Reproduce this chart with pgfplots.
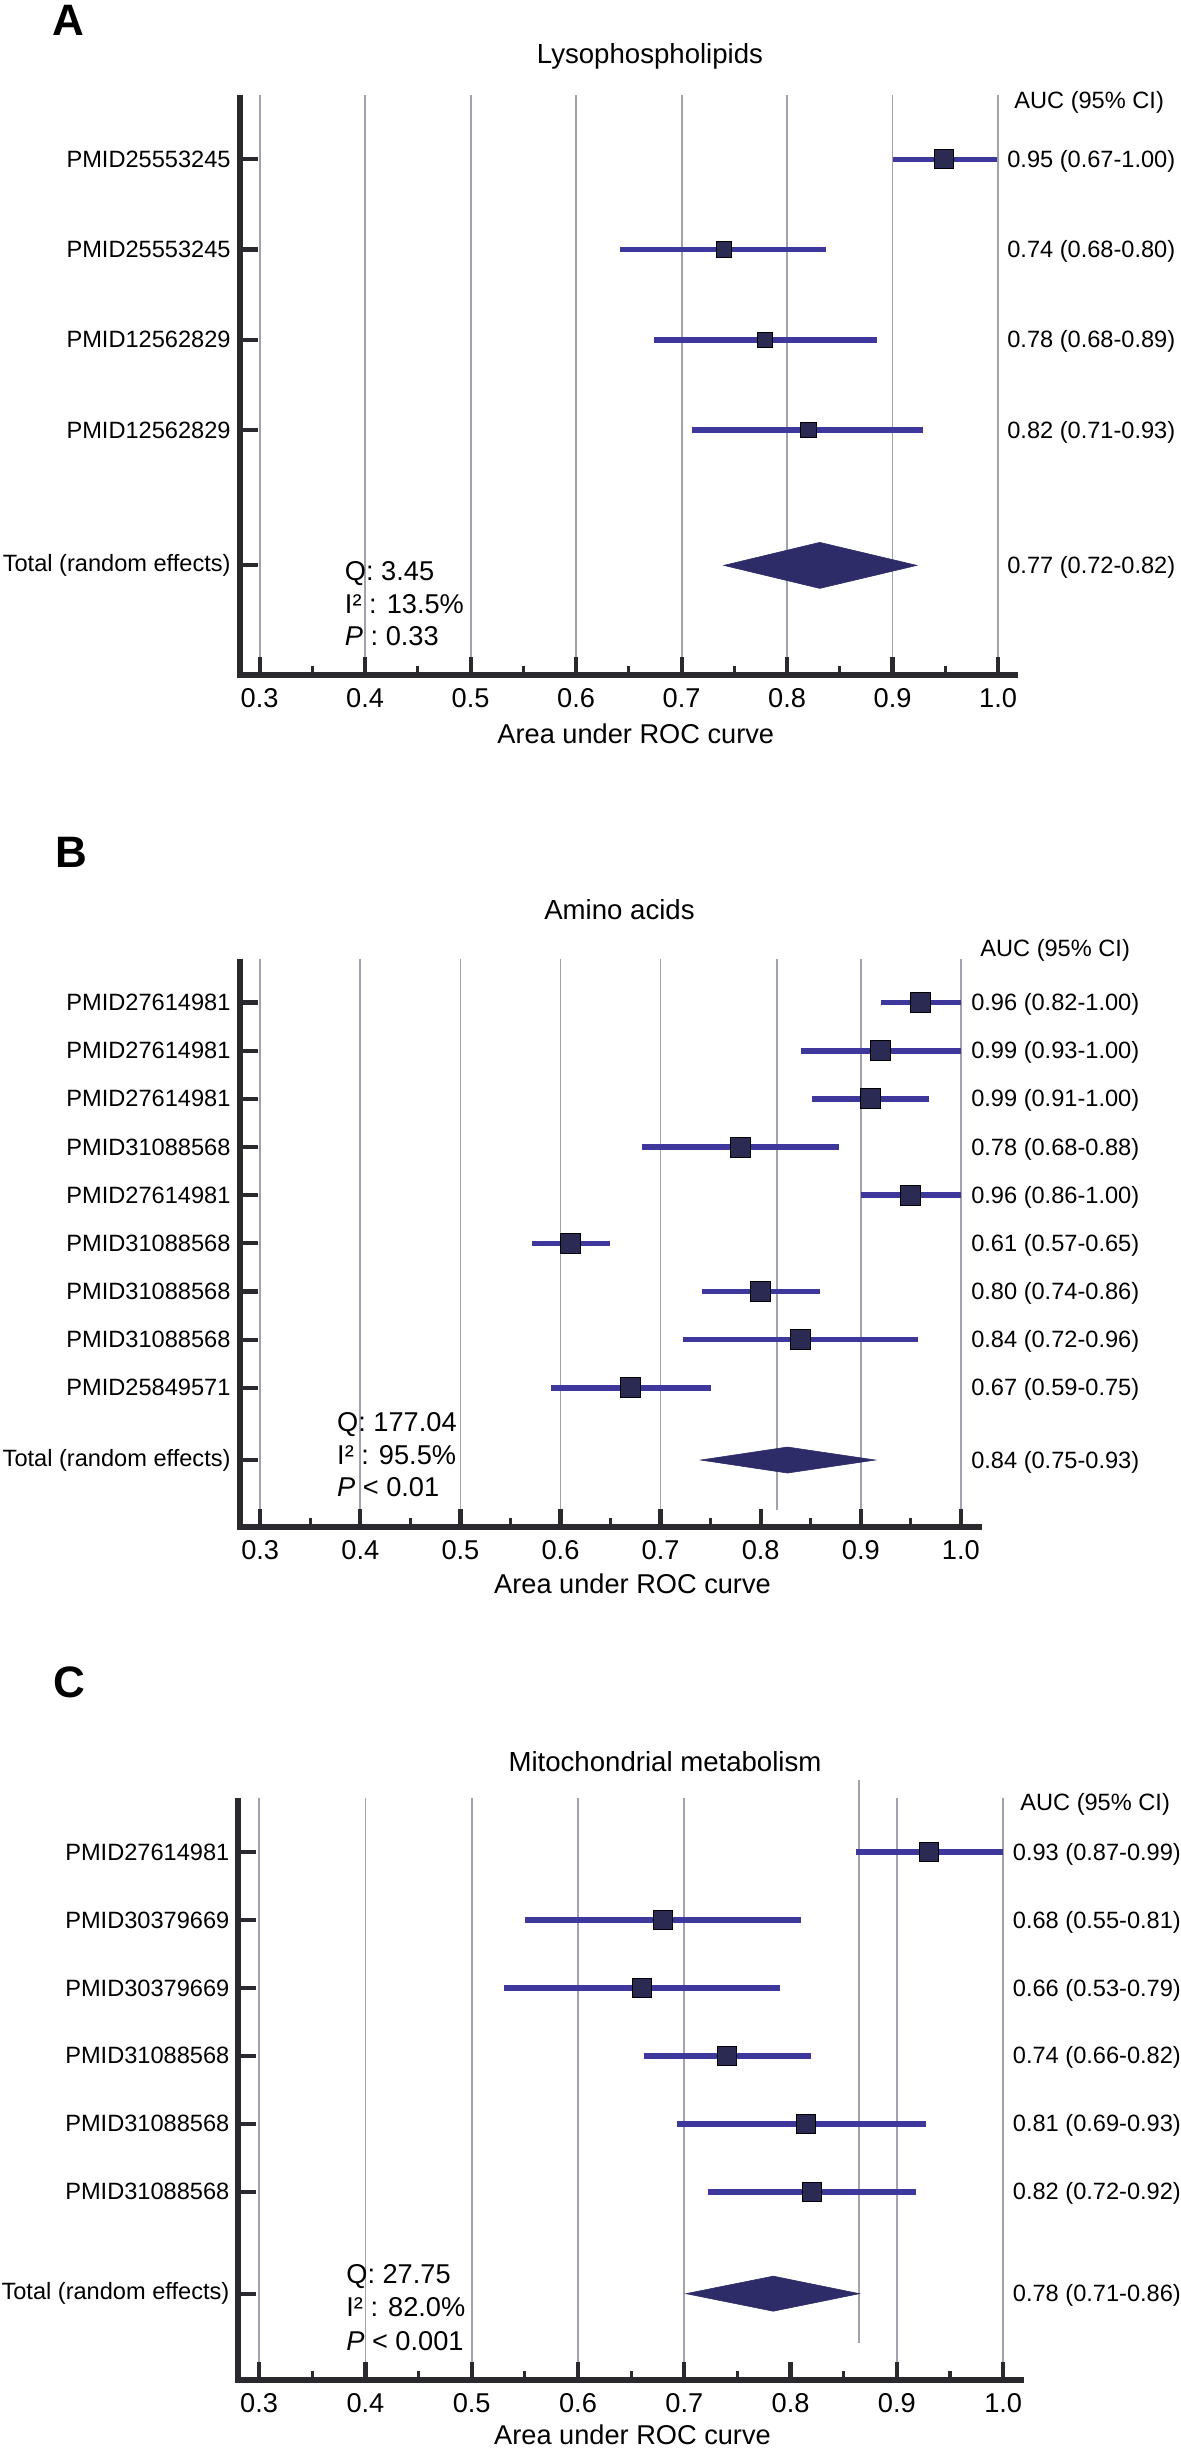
\documentclass[border=0pt]{standalone}
\usepackage{fontspec}
\setmainfont{Liberation Sans}
\usepackage{pgfplots}
\pgfplotsset{compat=1.18}
\definecolor{cicol}{HTML}{3E389C}
\definecolor{sqcol}{HTML}{2B2A52}
\definecolor{diacol}{HTML}{2D2C68}
\definecolor{gridcol}{HTML}{A2A2AE}
\definecolor{axcol}{HTML}{2A2A2E}
\newcommand{\fsrow}{\fontsize{11.8}{14}\selectfont}
\newcommand{\fstick}{\fontsize{13.6}{16}\selectfont}
\newcommand{\fstitle}{\fontsize{13.8}{16}\selectfont}
\pgfplotsset{forest/.style={
  scale only axis, clip=false, y dir=reverse, anchor=south west,
  axis line style={draw=none},
  tick align=inside, xtick pos=bottom, ytick pos=left,
  major tick length=9pt, minor tick length=4.5pt,
  tick style={axcol, line width=2.1pt},
  minor tick style={axcol, line width=1.6pt},
  xmajorgrids, grid style={gridcol, line width=0.9pt},
  minor xtick={0.35,0.45,0.55,0.65,0.75,0.85,0.95},
  xticklabel style={font=\fstick, inner sep=0pt, anchor=north, yshift=-6.65pt},
  yticklabel style={font=\fsrow, inner sep=0pt, anchor=east, xshift=-4.35pt},
},
ci/.style={cicol, line width=2.8pt},
sq/.style={only marks, mark=square*, mark size=#1, mark options={fill=sqcol, draw=none}},
dia/.style={fill=diacol, draw=diacol, line width=0.3pt},
}
\tikzset{
val/.style={anchor=west, font=\fsrow, inner sep=0pt, yshift=-1pt},
qt/.style={anchor=base west, font=\fstick, inner sep=0pt},
}
\begin{document}
\begin{tikzpicture}
% ---------------- Panel A ----------------
\begin{axis}[forest,
  at={(119.85pt,-337.5pt)}, width=389.15pt, height=290pt,
  xmin=0.2811, xmax=1.0189, ymin=-0.713, ymax=5.715,
  xtick={0.3,0.4,0.5,0.6,0.7,0.8,0.9,1.0},
  xticklabels={0.3,0.4,0.5,0.6,0.7,0.8,0.9,1.0},
  ytick={0,1,2,3,4.5},
  yticklabels={PMID25553245,PMID25553245,PMID12562829,PMID12562829,Total (random effects)},
]
\addplot[ci] coordinates {(0.9005,0) (0.999,0)};
\addplot[ci] coordinates {(0.642,1) (0.837,1)};
\addplot[ci] coordinates {(0.674,2) (0.885,2)};
\addplot[ci] coordinates {(0.710,3) (0.929,3)};
\addplot[sq=4.75pt] coordinates {(0.949,0)};
\addplot[sq=3.9pt] coordinates {(0.740,1) (0.779,2) (0.820,3)};
\addplot[dia] coordinates {(0.740,4.5) (0.831,4.245) (0.923,4.5) (0.831,4.755)} -- cycle;
\node[val] at (axis cs:1.0084,0) {0.95 (0.67-1.00)};
\node[val] at (axis cs:1.0084,1) {0.74 (0.68-0.80)};
\node[val] at (axis cs:1.0084,2) {0.78 (0.68-0.89)};
\node[val] at (axis cs:1.0084,3) {0.82 (0.71-0.93)};
\node[val] at (axis cs:1.0084,4.5) {0.77 (0.72-0.82)};
\node[qt] at (axis cs:0.3805,4.663) {Q: 3.45};
\node[qt] at (axis cs:0.3805,5.031) {I² : 13.5\%};
\node[qt] at (axis cs:0.3805,5.383) {\textit{P} : 0.33};
\draw[axcol, line width=3pt, line join=miter] (axis cs:0.2811,-0.713) -- (axis cs:0.2811,5.715) -- (axis cs:1.0189,5.715);
\end{axis}
% ---------------- Panel B ----------------
\begin{axis}[forest,
  at={(119.8pt,-763.35pt)}, width=371.1pt, height=284.05pt,
  xmin=0.2794, xmax=1.0209, ymin=-0.912, ymax=10.885,
  xtick={0.3,0.4,0.5,0.6,0.7,0.9,1.0},
  xticklabels={0.3,0.4,0.5,0.6,0.7,0.9,1.0},
  extra x ticks={0.8}, extra x tick labels={0.8}, extra x tick style={grid=none},
  ytick={0,1,2,3,4,5,6,7,8,9.5},
  yticklabels={PMID27614981,PMID27614981,PMID27614981,PMID31088568,PMID27614981,PMID31088568,PMID31088568,PMID31088568,PMID25849571,Total (random effects)},
]
\addplot[gridcol, line width=0.9pt] coordinates {(0.816,-0.912) (0.816,10.54)};
\addplot[ci] coordinates {(0.9205,0) (1.0,0)};
\addplot[ci] coordinates {(0.8405,1) (1.0,1)};
\addplot[ci] coordinates {(0.8508,2) (0.9685,2)};
\addplot[ci] coordinates {(0.6818,3) (0.8783,3)};
\addplot[ci] coordinates {(0.900,4) (1.0,4)};
\addplot[ci] coordinates {(0.5715,5) (0.6494,5)};
\addplot[ci] coordinates {(0.741,6) (0.8589,6)};
\addplot[ci] coordinates {(0.7227,7) (0.9575,7)};
\addplot[ci] coordinates {(0.5905,8) (0.750,8)};
\addplot[sq=5pt] coordinates {(0.960,0) (0.9196,1) (0.910,2) (0.780,3) (0.950,4) (0.6097,5) (0.800,6) (0.8397,7) (0.670,8)};
\addplot[dia] coordinates {(0.740,9.5) (0.8267,9.23) (0.9147,9.5) (0.8267,9.77)} -- cycle;
\node[val] at (axis cs:1.010,0) {0.96 (0.82-1.00)};
\node[val] at (axis cs:1.010,1) {0.99 (0.93-1.00)};
\node[val] at (axis cs:1.010,2) {0.99 (0.91-1.00)};
\node[val] at (axis cs:1.010,3) {0.78 (0.68-0.88)};
\node[val] at (axis cs:1.010,4) {0.96 (0.86-1.00)};
\node[val] at (axis cs:1.010,5) {0.61 (0.57-0.65)};
\node[val] at (axis cs:1.010,6) {0.80 (0.74-0.86)};
\node[val] at (axis cs:1.010,7) {0.84 (0.72-0.96)};
\node[val] at (axis cs:1.010,8) {0.67 (0.59-0.75)};
\node[val] at (axis cs:1.010,9.5) {0.84 (0.75-0.93)};
\node[qt] at (axis cs:0.3765,8.912) {Q: 177.04};
\node[qt] at (axis cs:0.3765,9.603) {I² : 95.5\%};
\node[qt] at (axis cs:0.3765,10.262) {\textit{P} < 0.01};
\draw[axcol, line width=3pt, line join=miter] (axis cs:0.2794,-0.912) -- (axis cs:0.2794,10.885) -- (axis cs:1.0209,10.885);
\end{axis}
% ---------------- Panel C ----------------
\begin{axis}[forest,
  at={(119.2pt,-1190pt)}, width=392.75pt, height=290.85pt,
  xmin=0.2805, xmax=1.0195, ymin=-0.790, ymax=7.771,
  xtick={0.3,0.4,0.5,0.6,0.7,0.9,1.0},
  xticklabels={0.3,0.4,0.5,0.6,0.7,0.9,1.0},
  extra x ticks={0.8}, extra x tick labels={0.8}, extra x tick style={grid=none},
  ytick={0,1,2,3,4,5,6.5},
  yticklabels={PMID27614981,PMID30379669,PMID30379669,PMID31088568,PMID31088568,PMID31088568,Total (random effects)},
]
\addplot[gridcol, line width=0.9pt] coordinates {(0.8647,-1.06) (0.8647,7.227)};
\addplot[ci] coordinates {(0.8618,0) (1.0,0)};
\addplot[ci] coordinates {(0.5506,1) (0.810,1)};
\addplot[ci] coordinates {(0.5304,2) (0.7898,2)};
\addplot[ci] coordinates {(0.662,3) (0.819,3)};
\addplot[ci] coordinates {(0.693,4) (0.9277,4)};
\addplot[ci] coordinates {(0.7225,5) (0.918,5)};
\addplot[sq=4.75pt] coordinates {(0.930,0) (0.6803,1) (0.6602,2) (0.7405,3) (0.8143,4) (0.820,5)};
\addplot[dia] coordinates {(0.7016,6.5) (0.7837,6.242) (0.8647,6.5) (0.7837,6.758)} -- cycle;
\node[val] at (axis cs:1.0088,0) {0.93 (0.87-0.99)};
\node[val] at (axis cs:1.0088,1) {0.68 (0.55-0.81)};
\node[val] at (axis cs:1.0088,2) {0.66 (0.53-0.79)};
\node[val] at (axis cs:1.0088,3) {0.74 (0.66-0.82)};
\node[val] at (axis cs:1.0088,4) {0.81 (0.69-0.93)};
\node[val] at (axis cs:1.0088,5) {0.82 (0.72-0.92)};
\node[val] at (axis cs:1.0088,6.5) {0.78 (0.71-0.86)};
\node[qt] at (axis cs:0.3817,6.348) {Q: 27.75};
\node[qt] at (axis cs:0.3817,6.840) {I² : 82.0\%};
\node[qt] at (axis cs:0.3817,7.330) {\textit{P} < 0.001};
\draw[axcol, line width=3pt, line join=miter] (axis cs:0.2805,-0.790) -- (axis cs:0.2805,7.771) -- (axis cs:1.0195,7.771);
\end{axis}
% ---------------- global text ----------------
\begin{scope}[x=0.5pt, y=-0.5pt]
\node[anchor=base west, inner sep=0pt, font=\fontsize{22}{24}\selectfont\bfseries] at (52,35) {A};
\node[anchor=base west, inner sep=0pt, font=\fontsize{22}{24}\selectfont\bfseries] at (55,867.5) {B};
\node[anchor=base west, inner sep=0pt, font=\fontsize{22}{24}\selectfont\bfseries] at (53.5,1697) {C};
\node[anchor=base, inner sep=0pt, font=\fstitle] at (650,63) {Lysophospholipids};
\node[anchor=base, inner sep=0pt, font=\fstitle] at (619.5,919.3) {Amino acids};
\node[anchor=base, inner sep=0pt, font=\fstitle] at (665,1771.7) {Mitochondrial metabolism};
\node[anchor=base west, inner sep=0pt, font=\fsrow] at (1014,108.3) {AUC (95\% CI)};
\node[anchor=base west, inner sep=0pt, font=\fsrow] at (980,956.8) {AUC (95\% CI)};
\node[anchor=base west, inner sep=0pt, font=\fsrow] at (1020,1810) {AUC (95\% CI)};
\node[anchor=base, inner sep=0pt, font=\fstick] at (635.8,743.3) {Area under ROC curve};
\node[anchor=base, inner sep=0pt, font=\fstick] at (632.5,1593.3) {Area under ROC curve};
\node[anchor=base, inner sep=0pt, font=\fstick] at (632.5,2444.5) {Area under ROC curve};
\end{scope}
\pgfresetboundingbox
\useasboundingbox (0pt,0pt) rectangle (590.5pt,-1224.5pt);
\end{tikzpicture}
\end{document}
